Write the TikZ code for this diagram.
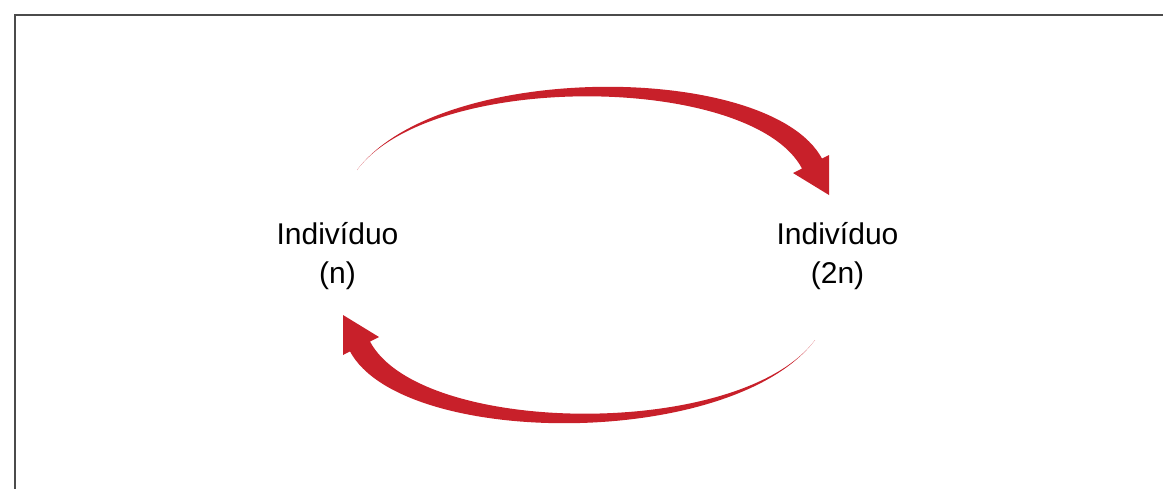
\documentclass[tikz,border=0pt]{standalone}
\usepackage{fontspec}
\setmainfont{Liberation Sans}
\definecolor{arrowred}{RGB}{200,32,42}
\definecolor{framegray}{RGB}{75,75,75}
\newcommand\curvedredarrow{%
  \fill[bigarrow] (357,170) .. controls (440,60) and (770,62) .. (822,158.6)
    -- (829,155) -- (829,195) -- (793,173) -- (802,168.5)
    .. controls (752,74) and (432,70) .. (357,170) -- cycle;}
\begin{document}
\begin{tikzpicture}[x=1pt,y=-1pt,
  labeltext/.style={align=center,font=\fontsize{30}{39}\selectfont,inner sep=0pt},
  bigarrow/.style={fill=arrowred,draw=none},
  frameline/.style={draw=framegray,line width=2.8pt}]
\useasboundingbox (0,0) rectangle (1163,488);
\draw[frameline] (15,500) -- (15,15) -- (1175,15);
\node[labeltext] (indn) at (337.5,256) {Indivíduo\\(n)};
\node[labeltext] (ind2n) at (837.5,256) {Indivíduo\\(2n)};
\curvedredarrow
\begin{scope}[rotate around={180:(586,255)}]
\curvedredarrow
\end{scope}
\end{tikzpicture}
\end{document}
